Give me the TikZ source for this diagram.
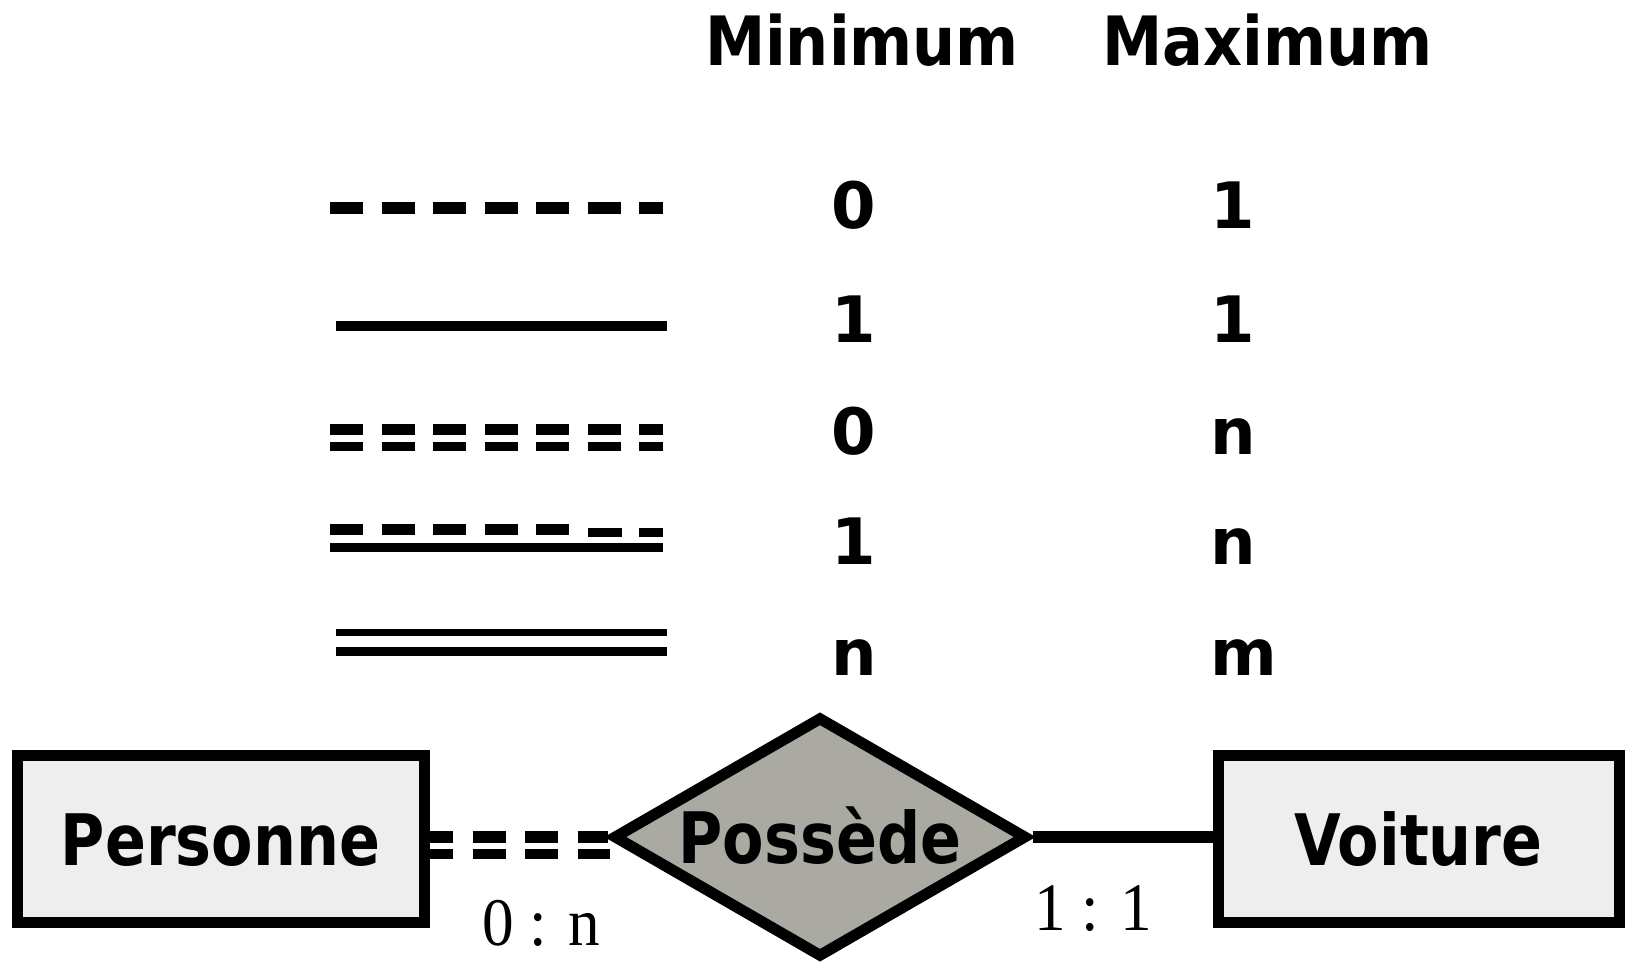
\documentclass[tikz,border=0pt]{standalone}
\usepackage{fontspec}
\usetikzlibrary{shapes.geometric,calc}
\newfontfamily\headfont{DejaVu Sans}[FakeStretch=0.89]
\newfontfamily\numfont{DejaVu Sans}
\newfontfamily\boxfont{DejaVu Sans}[FakeStretch=0.85]
\newfontfamily\cardfont{Liberation Serif}[FakeStretch=0.93]
\definecolor{entityfill}{RGB}{238,238,238}
\definecolor{relfill}{RGB}{170,170,162}

\begin{document}
\begin{tikzpicture}[x=1pt,y=-1pt,
  head/.style={inner sep=0pt, anchor=base, font=\headfont\bfseries\fontsize{68}{80}\selectfont},
  num/.style={inner sep=0pt, anchor=base west, font=\numfont\bfseries\fontsize{64}{76}\selectfont},
  entity/.style={draw, line width=11pt, fill=entityfill, rectangle, inner sep=0pt,
    minimum height=167pt, text height=52pt, text depth=0pt,
    font=\boxfont\bfseries\fontsize{71}{80}\selectfont},
  relation/.style={draw, line width=11pt, fill=relfill, diamond, aspect=1.72, inner sep=0pt,
    minimum width=414pt, minimum height=241pt, text height=52pt, text depth=0pt,
    font=\boxfont\bfseries\fontsize{71}{80}\selectfont},
  card/.style={inner sep=0pt, anchor=base, font=\cardfont\fontsize{68}{80}\selectfont},
  legdash/.style={dash pattern=on 33pt off 18.5pt},
  linkdash/.style={dash pattern=on 33pt off 19.5pt, dash phase=9.3pt},
]
\useasboundingbox (0,0) rectangle (1629,961);

% column headings
\node[head] (hmin) at (862,65.5) {Minimum};
\node[head] (hmax) at (1267.5,65.5) {Maximum};

% legend: line styles
\draw[line width=11.7pt, legdash] (330,207.8) -- (663,207.8);
\draw[line width=9.7pt] (336,325.8) -- (667,325.8);
\draw[line width=10.7pt, legdash] (330,429.3) -- (663,429.3);
\draw[line width=8.7pt, legdash] (330,446.3) -- (663,446.3);
\draw[line width=10.7pt, legdash] (330,529.3) -- (570,529.3);
\draw[line width=8.7pt] (588,532.3) -- (622,532.3);
\draw[line width=8.7pt] (639,532.3) -- (663,532.3);
\draw[line width=8.7pt] (330,547.3) -- (663,547.3);
\draw[line width=6.7pt] (336,632.3) -- (667,632.3);
\draw[line width=8.7pt] (336,651.3) -- (667,651.3);

% legend: minimum and maximum values
\node[num] (min1) at (831,228.6) {0};
\node[num] (max1) at (1210,228.6) {1};
\node[num] (min2) at (831,342.8) {1};
\node[num] (max2) at (1210,342.8) {1};
\node[num] (min3) at (831,454) {0};
\node[num] (max3) at (1210,454) {n};
\node[num] (min4) at (831,564) {1};
\node[num] (max4) at (1210,564) {n};
\node[num] (min5) at (831,675) {n};
\node[num] (max5) at (1210,675) {m};

% entity-relationship example
\node[entity, minimum width=407pt] (pers) at (220.5,839) {Personne};
\node[relation] (poss) at (820,837) {Possède};
\node[entity, minimum width=401pt] (voit) at (1418.5,839) {Voiture};

\draw[line width=12pt, linkdash] (pers.east |- poss.west) -- (poss.west);
\draw[line width=10pt, linkdash] ($(pers.east |- poss.west)+(0,17.3)$) -- ($(poss.west)+(2,17.3)$);
\draw[line width=12pt] (poss.east) -- (voit.west |- poss.east);

\node[card] (cpers) at (541,945) {0 : n};
\node[card] (cvoit) at (1093,930) {1 : 1};
\end{tikzpicture}
\end{document}
